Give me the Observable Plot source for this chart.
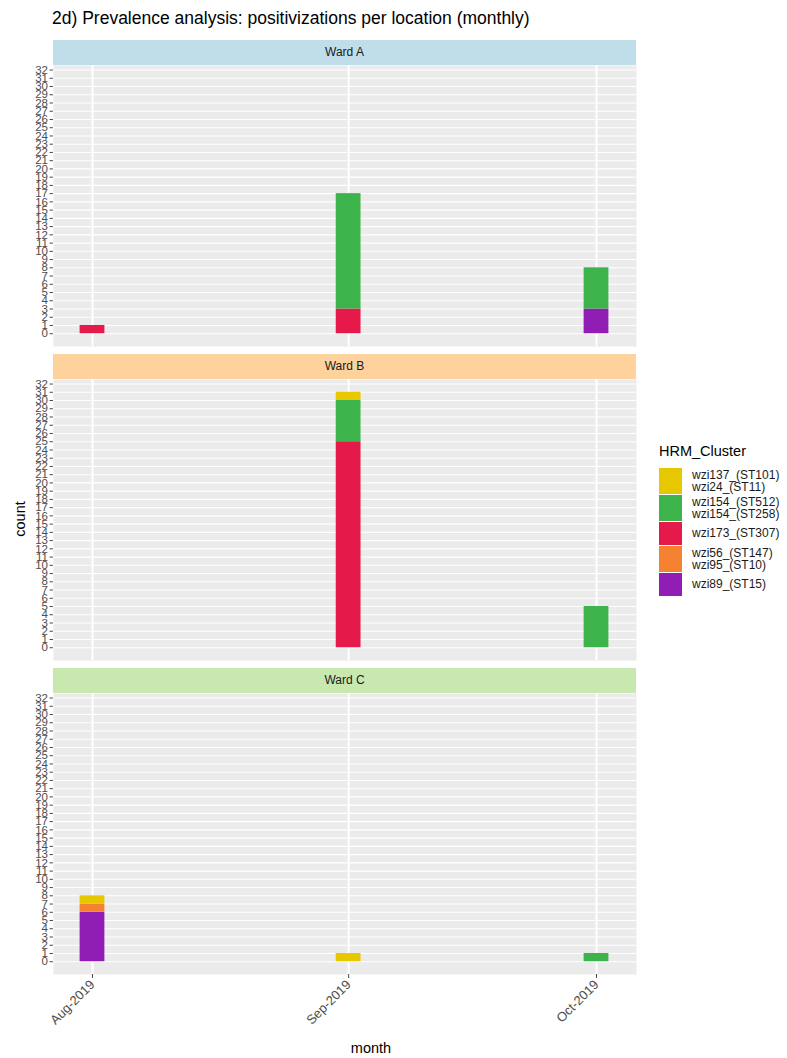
<!DOCTYPE html>
<html><head><meta charset="utf-8">
<script src="https://cdn.jsdelivr.net/npm/d3@7"></script>
<script src="https://cdn.jsdelivr.net/npm/@observablehq/plot@0.6"></script>
<style>
body{margin:0;background:#fff;font-family:"Liberation Sans",Arial,sans-serif;}
#root{position:relative;width:787px;height:1058px;overflow:hidden;}
.abs{position:absolute;}
.strip{position:absolute;left:53px;width:583px;height:25px;line-height:25px;text-align:center;font-size:12px;color:#1a1a1a;}
.panel{position:absolute;left:0;overflow:visible;}
.lg-item{display:flex;align-items:center;}
.lg-key{width:23px;margin-right:10px;}
.lg-lab{font-size:12px;line-height:12px;color:#1a1a1a;white-space:pre;}
</style></head><body><div id="root"></div>
<script>
const wards = ["Ward A", "Ward B", "Ward C"];
const stripColors = ["#bfdeea", "#fdd29c", "#c9e8b0"];
const months = ["2019-08-01", "2019-09-01", "2019-10-01"];
const monthLabels = ["Aug-2019", "Sep-2019", "Oct-2019"];
const clusters = [
  "wzi137_(ST101)\nwzi24_(ST11)",
  "wzi154_(ST512)\nwzi154_(ST258)",
  "wzi173_(ST307)",
  "wzi56_(ST147)\nwzi95_(ST10)",
  "wzi89_(ST15)"
];
const clusterColors = ["#e6c700", "#3cb44b", "#e6194b", "#f58231", "#911eb4"];
const yTicks = d3.range(0, 33);

// rows: ward, month, cluster index, count
const rowWard    = ["Ward A","Ward A","Ward A","Ward A","Ward A","Ward B","Ward B","Ward B","Ward B","Ward C","Ward C","Ward C","Ward C","Ward C"];
const rowMonth   = ["2019-08-01","2019-09-01","2019-09-01","2019-10-01","2019-10-01","2019-09-01","2019-09-01","2019-09-01","2019-10-01","2019-08-01","2019-08-01","2019-08-01","2019-09-01","2019-10-01"];
const rowCluster = [2, 2, 1, 4, 1, 2, 1, 0, 1, 4, 3, 0, 0, 1];
const rowCount   = [1, 3, 14, 3, 5, 25, 5, 1, 5, 6, 1, 1, 1, 1];

const data = rowWard.map((w, i) => ({
  ward: w,
  date: new Date(rowMonth[i]),
  cluster: clusters[rowCluster[i]],
  count: rowCount[i]
}));
const monthDates = months.map(m => new Date(m));
const DAY = 864e5;
const xDomain = [new Date(+monthDates[0] - 4.72 * DAY), new Date(+monthDates[2] + 4.84 * DAY)];
const stackOrder = clusters.slice().reverse();

const root = document.getElementById("root");
function addDiv(cls, style, text) {
  const d = document.createElement("div");
  d.className = cls;
  Object.assign(d.style, style);
  if (text != null) d.textContent = text;
  root.appendChild(d);
  return d;
}

addDiv("abs", {left: "52px", top: "8px", fontSize: "17.5px", color: "#000", whiteSpace: "nowrap"},
  "2d) Prevalence analysis: positivizations per location (monthly)");

const stripTops = [40, 354, 668];
wards.forEach((w, i) => {
  addDiv("strip", {top: stripTops[i] + "px", background: stripColors[i]}, w);
  const last = i === wards.length - 1;
  const chart = Plot.plot({
    width: 640,
    height: last ? 365 : 281,
    marginLeft: 53,
    marginRight: 4,
    marginTop: 0,
    marginBottom: last ? 84 : 0,
    style: {fontFamily: "'Liberation Sans', Arial, sans-serif", background: "transparent", overflow: "visible"},
    x: {type: "utc", domain: xDomain, axis: last ? undefined : null},
    y: {domain: [-1.55, 32.55]},
    color: {domain: clusters, range: clusterColors},
    marks: [
      Plot.frame({fill: "#ebebeb", stroke: null}),
      Plot.ruleY(yTicks, {stroke: "#fff", strokeWidth: 1.1}),
      Plot.ruleX(monthDates, {stroke: "#fff", strokeWidth: 2}),
      Plot.rectY(data.filter(d => d.ward === w), {
        x1: d => new Date(+d.date - 1.5 * DAY),
        x2: d => new Date(+d.date + 1.5 * DAY),
        y: "count",
        fill: "cluster",
        order: stackOrder
      }),
      Plot.axisY(yTicks, {tickSize: 3.5, tickPadding: 2, fontSize: 11.5, color: "#4d4d4d", label: null, tickFormat: d => String(d)}),
      last ? Plot.axisX(monthDates, {
        tickRotate: -45, tickSize: 4, tickPadding: 4, fontSize: 13, color: "#4d4d4d", label: null,
        tickFormat: d => monthLabels[months.indexOf(d.toISOString().slice(0, 10))]
      }) : null
    ]
  });
  chart.classList.add("panel");
  chart.style.top = (stripTops[i] + 25) + "px";
  root.appendChild(chart);
});

addDiv("abs", {left: "0px", width: "689px", top: "1040px", textAlign: "center", fontSize: "14.5px", color: "#000", boxSizing: "border-box", paddingLeft: "53px"}, "month");
addDiv("abs", {left: "0px", top: "519px", fontSize: "14.5px", color: "#000", transform: "translate(0,-50%) rotate(-90deg)", transformOrigin: "center", width: "40px", textAlign: "center"}, "count");

// legend
const lg = addDiv("abs", {left: "659px", top: "443px"});
const lt = document.createElement("div");
lt.textContent = "HRM_Cluster";
Object.assign(lt.style, {fontSize: "14.5px", color: "#000", marginBottom: "8px"});
lg.appendChild(lt);
clusters.forEach((c, i) => {
  const two = c.includes("\n");
  const item = document.createElement("div");
  item.className = "lg-item";
  item.style.height = (two ? 27 : 24) + "px";
  const key = document.createElement("div");
  key.className = "lg-key";
  key.style.height = (two ? 26 : 23) + "px";
  key.style.background = clusterColors[i];
  const lab = document.createElement("div");
  lab.className = "lg-lab";
  lab.textContent = c;
  item.appendChild(key);
  item.appendChild(lab);
  lg.appendChild(item);
});
</script></body></html>
